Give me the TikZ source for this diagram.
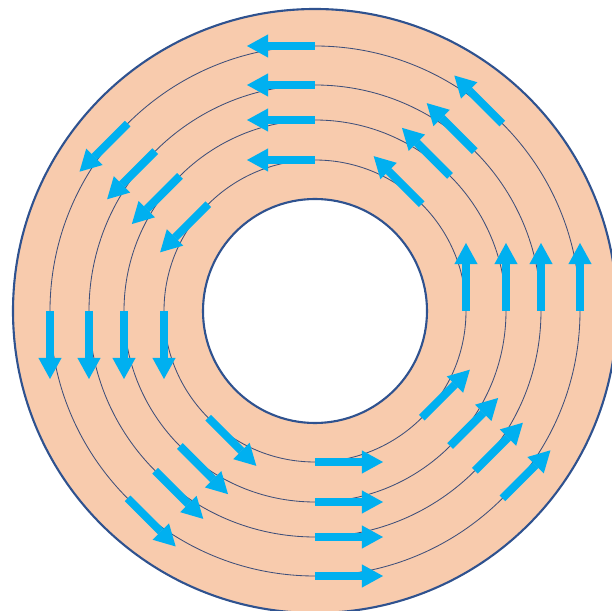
\documentclass[tikz,border=0pt]{standalone}
\usepackage{tikz}
\usetikzlibrary{arrows.meta}

\definecolor{ringpeach}{HTML}{F8CBAD}
\definecolor{ringedge}{HTML}{2F528F}
\definecolor{trackline}{HTML}{3F4F7A}
\definecolor{flowblue}{HTML}{00B0F0}

\tikzset{
	ring/.style={draw=ringedge, line width=1.5pt, fill=ringpeach, even odd rule},
	track/.style={draw=trackline, line width=0.6pt},
	flow/.style={draw=flowblue, line width=5.7pt, -{Triangle[width=16.5pt, length=15pt, line width=0pt]}}
}

\begin{document}
\begin{tikzpicture}[x=0.025cm, y=0.025cm]
		%%%%% START %%%%%
		
		\useasboundingbox (-315, -300) rectangle (297, 311);
		\clip (-315, -300) rectangle (297, 311);
		
		\draw[ring] (0, 0) circle (302) (0, 0) circle (112);
		
		\draw[track] (0, 0) circle (151);
		\draw[track] (0, 0) circle (191);
		\draw[track] (0, 0) circle (226);
		\draw[track] (0, 0) circle (265);
		
		\draw[flow] (0:151) -- ++(90:68);
		\draw[flow] (45:151) -- ++(135:68);
		\draw[flow] (90:151) -- ++(180:68);
		\draw[flow] (135:151) -- ++(225:68);
		\draw[flow] (180:151) -- ++(270:68);
		\draw[flow] (225:151) -- ++(315:68);
		\draw[flow] (270:151) -- ++(0:68);
		\draw[flow] (315:151) -- ++(45:68);
		
		\draw[flow] (0:191) -- ++(90:68);
		\draw[flow] (45:191) -- ++(135:68);
		\draw[flow] (90:191) -- ++(180:68);
		\draw[flow] (135:191) -- ++(225:68);
		\draw[flow] (180:191) -- ++(270:68);
		\draw[flow] (225:191) -- ++(315:68);
		\draw[flow] (270:191) -- ++(0:68);
		\draw[flow] (315:191) -- ++(45:68);
		
		\draw[flow] (0:226) -- ++(90:68);
		\draw[flow] (45:226) -- ++(135:68);
		\draw[flow] (90:226) -- ++(180:68);
		\draw[flow] (135:226) -- ++(225:68);
		\draw[flow] (180:226) -- ++(270:68);
		\draw[flow] (225:226) -- ++(315:68);
		\draw[flow] (270:226) -- ++(0:68);
		\draw[flow] (315:226) -- ++(45:68);
		
		\draw[flow] (0:265) -- ++(90:68);
		\draw[flow] (45:265) -- ++(135:68);
		\draw[flow] (90:265) -- ++(180:68);
		\draw[flow] (135:265) -- ++(225:68);
		\draw[flow] (180:265) -- ++(270:68);
		\draw[flow] (225:265) -- ++(315:68);
		\draw[flow] (270:265) -- ++(0:68);
		\draw[flow] (315:265) -- ++(45:68);
		
		%%%%% END %%%%%
\end{tikzpicture}
\end{document}
